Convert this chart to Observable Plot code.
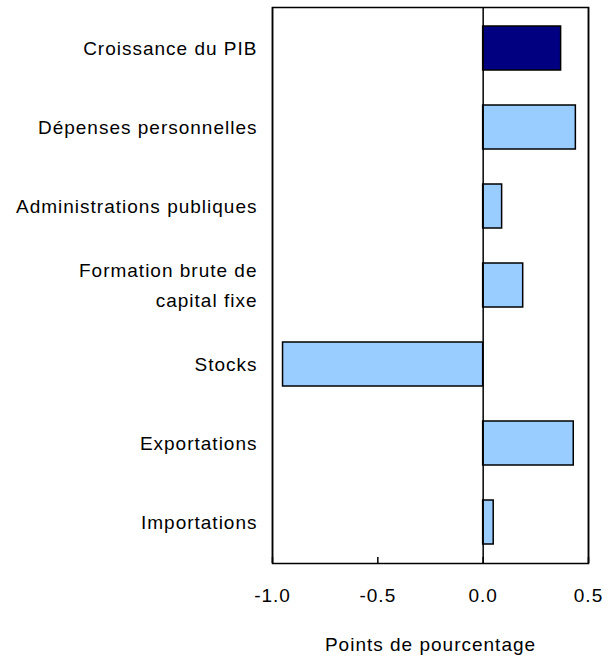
<!DOCTYPE html>
<html>
<head>
<meta charset="utf-8">
<script src="https://cdn.jsdelivr.net/npm/d3@7"></script>
<script src="https://cdn.jsdelivr.net/npm/@observablehq/plot@0.6"></script>
<style>
  html, body { margin: 0; padding: 0; background: #fff; }
  #chart svg { display: block; }
</style>
</head>
<body>
<div id="chart"></div>
<script>
const categories = [
  "Croissance du PIB",
  "Dépenses personnelles",
  "Administrations publiques",
  "Formation brute de capital fixe",
  "Stocks",
  "Exportations",
  "Importations"
];
const categoryLabels = [
  "Croissance du PIB",
  "Dépenses personnelles",
  "Administrations publiques",
  "Formation brute de\ncapital fixe",
  "Stocks",
  "Exportations",
  "Importations"
];
const values = [0.37, 0.44, 0.09, 0.19, -0.95, 0.43, 0.05];
const groups = ["pib", "comp", "comp", "comp", "comp", "comp", "comp"];
const xTicks = [-1.0, -0.5, 0.0, 0.5];
const xLabel = "Points de pourcentage";

const data = categories.map((c, i) => ({ category: c, value: values[i], group: groups[i] }));
const labelOf = new Map(categories.map((c, i) => [c, categoryLabels[i]]));

const chart = Plot.plot({
  width: 613,
  height: 660,
  marginLeft: 272,
  marginRight: 25,
  marginTop: 7,
  marginBottom: 97,
  style: {
    fontFamily: "'Liberation Sans', Arial, sans-serif",
    fontSize: "19px",
    letterSpacing: "1px",
    color: "#000",
    background: "#fff"
  },
  x: { domain: [-1, 0.5] },
  y: { domain: categories, paddingInner: 0.446, paddingOuter: 0.223 },
  color: { domain: ["pib", "comp"], range: ["#000080", "#99ccff"] },
  marks: [
    Plot.barX(data, { x: "value", y: "category", fill: "group", stroke: "#000", strokeWidth: 1.5 }),
    Plot.ruleX([0], { stroke: "#000", strokeWidth: 1.5 }),
    Plot.tickX(xTicks, { x: d => d, stroke: "#000", strokeWidth: 1.5, insetTop: 550 }),
    Plot.ruleX([xTicks[0], xTicks[xTicks.length - 1]], { stroke: "#000", strokeWidth: 1.5 }),
    Plot.frame({ stroke: "#000", strokeWidth: 1.5 }),
    Plot.axisX({
      ticks: xTicks,
      tickSize: 0,
      tickPadding: 25,
      tickFormat: d => d.toFixed(1),
      fontSize: 19,
      label: xLabel,
      labelAnchor: "center",
      labelArrow: false,
      labelOffset: 87
    }),
    Plot.axisY({
      tickSize: 0,
      tickPadding: 15,
      tickFormat: d => labelOf.get(d),
      lineHeight: 1.58,
      fontSize: 19,
      dy: -3,
      label: null
    })
  ]
});
document.getElementById("chart").appendChild(chart);
</script>
</body>
</html>
